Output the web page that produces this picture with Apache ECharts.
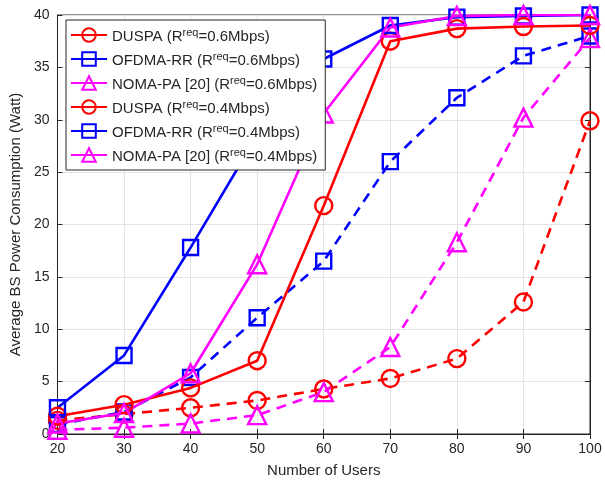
<!DOCTYPE html>
<html><head><meta charset="utf-8">
<script src="https://cdn.jsdelivr.net/npm/echarts@6/dist/echarts.min.js"></script>
<style>html,body{margin:0;padding:0;background:#fff}#c{width:605px;height:483px}</style>
</head><body><div id="c"></div>
<script>
const users = [20, 30, 40, 50, 60, 70, 80, 90, 100];
const duspa06 = [1.7, 2.8, 4.4, 7.0, 21.8, 37.5, 38.7, 38.9, 39.0];
const ofdma06 = [2.5, 7.5, 17.8, 28.5, 35.8, 39.0, 39.8, 39.9, 40.0];
const noma06  = [1.0, 2.0, 5.8, 16.2, 30.6, 38.8, 39.9, 40.0, 40.0];
const duspa04 = [1.3, 1.9, 2.5, 3.2, 4.3, 5.3, 7.2, 12.6, 29.9];
const ofdma04 = [0.9, 2.1, 5.4, 11.1, 16.5, 26.0, 32.1, 36.1, 38.0];
const noma04  = [0.4, 0.6, 1.0, 1.8, 4.0, 8.3, 18.3, 30.2, 37.8];
const seriesNames = [
  'DUSPA (R{sup|req}=0.6Mbps)',
  'OFDMA-RR (R{sup|req}=0.6Mbps)',
  'NOMA-PA [20] (R{sup|req}=0.6Mbps)',
  'DUSPA (R{sup|req}=0.4Mbps)',
  'OFDMA-RR (R{sup|req}=0.4Mbps)',
  'NOMA-PA [20] (R{sup|req}=0.4Mbps)'
];
const xTicks = [20, 100, 10];
const yTicks = [0, 40, 5];

const font = 'Liberation Sans, Arial, sans-serif';
const RED = '#ff0000', BLUE = '#0000ff', MAG = '#ff00ff';
function mk(name, data, color, symbol, size, dashed) {
  return {
    name: name, type: 'line',
    data: users.map((u, i) => [u, data[i]]),
    symbol: symbol, symbolSize: size,
    showSymbol: true,
    lineStyle: { color: color, width: 2.6, type: dashed ? [10, 7] : 'solid' },
    itemStyle: { color: 'rgba(255,255,255,0)', borderColor: color, borderWidth: 2.4 },
    emphasis: { disabled: true },
    z: dashed ? 2 : 3
  };
}
const series = [
  mk(seriesNames[0], duspa06, RED, 'circle', 17, false),
  mk(seriesNames[1], ofdma06, BLUE, 'rect', 15, false),
  mk(seriesNames[2], noma06, MAG, 'triangle', 18, false),
  mk(seriesNames[3], duspa04, RED, 'circle', 17, true),
  mk(seriesNames[4], ofdma04, BLUE, 'rect', 15, true),
  mk(seriesNames[5], noma04, MAG, 'triangle', 18, true)
];
const axisCol = '#262626';
const chart = echarts.init(document.getElementById('c'), null, { renderer: 'canvas' });
chart.setOption({
  animation: false,
  backgroundColor: '#fff',
  grid: { left: 57, right: 15, top: 15, bottom: 49, show: true, borderColor: axisCol, borderWidth: 1, backgroundColor: '#fff' },
  xAxis: [{
    type: 'value', min: xTicks[0], max: xTicks[1], interval: xTicks[2],
    name: 'Number of Users', nameLocation: 'middle', nameGap: 29,
    nameTextStyle: { fontFamily: font, fontSize: 15, color: axisCol },
    axisLine: { lineStyle: { color: axisCol } },
    axisTick: { inside: true, length: 5, lineStyle: { color: axisCol } },
    axisLabel: { fontFamily: font, fontSize: 14, color: axisCol, margin: 8 },
    splitLine: { show: true, lineStyle: { color: '#e3e3e3', width: 1 } }
  }, {
    type: 'value', position: 'top', min: xTicks[0], max: xTicks[1], interval: xTicks[2],
    axisLine: { lineStyle: { color: axisCol } },
    axisTick: { inside: true, length: 5, lineStyle: { color: axisCol } },
    axisLabel: { show: false }, splitLine: { show: false }
  }],
  yAxis: [{
    type: 'value', min: yTicks[0], max: yTicks[1], interval: yTicks[2],
    name: 'Average BS Power Consumption (Watt)', nameLocation: 'middle', nameGap: 31,
    nameTextStyle: { fontFamily: font, fontSize: 15, color: axisCol },
    axisLine: { show: true, lineStyle: { color: axisCol } },
    axisTick: { show: true, inside: true, length: 5, lineStyle: { color: axisCol } },
    axisLabel: { fontFamily: font, fontSize: 14, color: axisCol, margin: 8 },
    splitLine: { show: true, lineStyle: { color: '#e3e3e3', width: 1 } }
  }, {
    type: 'value', position: 'right', min: yTicks[0], max: yTicks[1], interval: yTicks[2],
    axisLine: { show: true, lineStyle: { color: axisCol } },
    axisTick: { show: true, inside: true, length: 5, lineStyle: { color: axisCol } },
    axisLabel: { show: false }, splitLine: { show: false }
  }],
  legend: {
    left: 66, top: 20, orient: 'vertical',
    backgroundColor: '#fff', borderColor: axisCol, borderWidth: 1,
    padding: [7, 8, 6, 4], itemGap: 7, itemWidth: 36, itemHeight: 17,
    selectedMode: false,
    lineStyle: { type: 'solid' },
    textStyle: {
      fontFamily: font, fontSize: 15, color: '#262626', padding: [3, 0, 0, 0],
      rich: { sup: { fontFamily: font, fontSize: 11, color: '#262626', verticalAlign: 'top', padding: [0, 0, 8, 0] } }
    },
    data: seriesNames
  },
  series: series
});
</script></body></html>
